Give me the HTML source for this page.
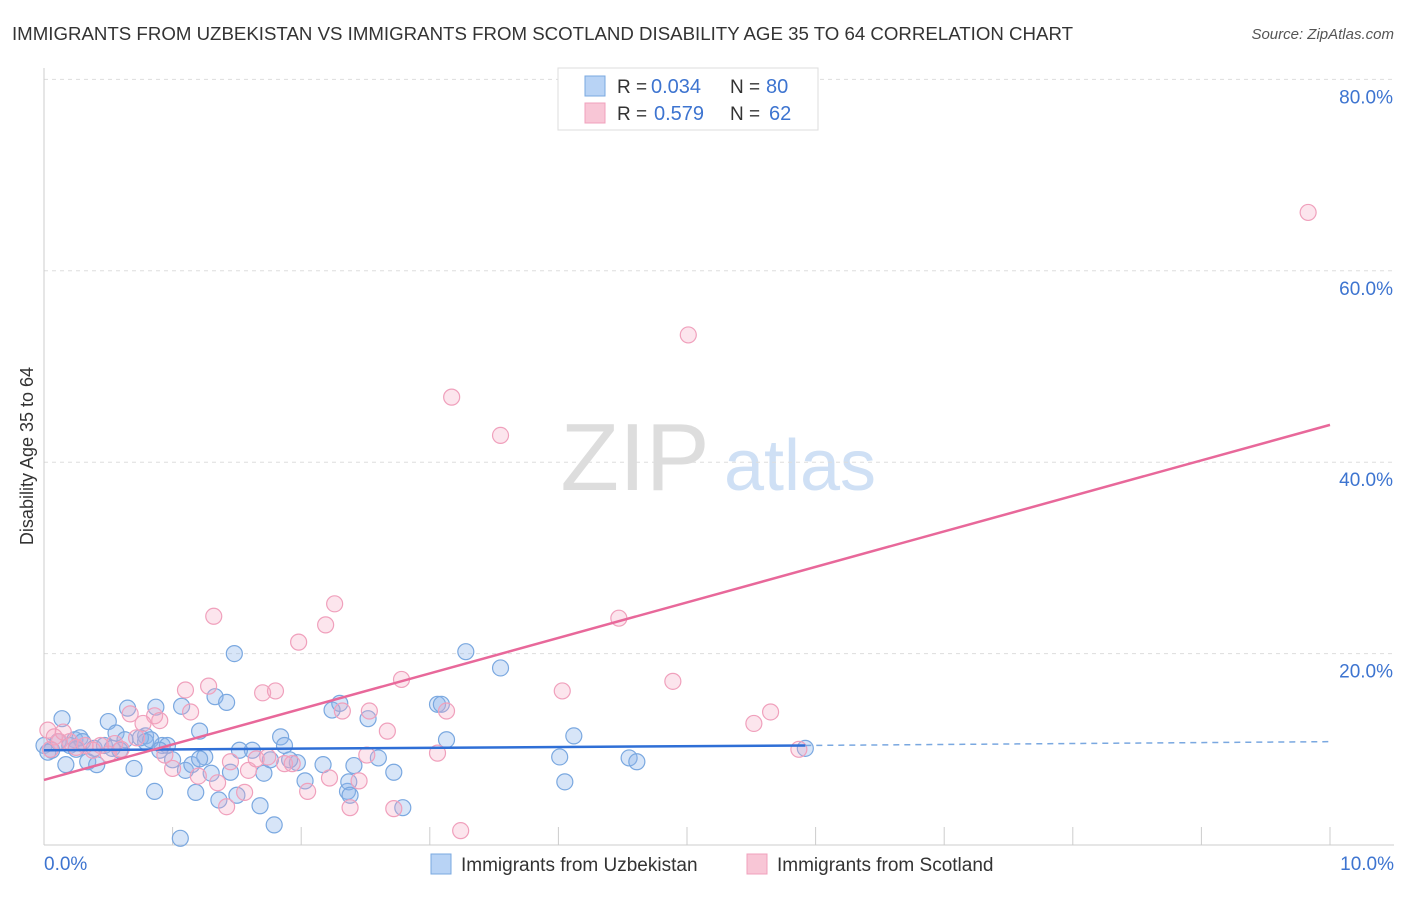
<!DOCTYPE html>
<html><head><meta charset="utf-8"><style>
body{margin:0;background:#fff;font-family:"Liberation Sans",sans-serif;}
svg text{font-family:"Liberation Sans",sans-serif;}
</style></head><body>
<svg id="chart" width="1406" height="892" viewBox="0 0 1406 892" xmlns="http://www.w3.org/2000/svg">
<text x="12" y="40" font-size="18" fill="#333" textLength="1061" lengthAdjust="spacingAndGlyphs">IMMIGRANTS FROM UZBEKISTAN VS IMMIGRANTS FROM SCOTLAND DISABILITY AGE 35 TO 64 CORRELATION CHART</text>
<text x="1394" y="39" font-size="15" fill="#555" text-anchor="end" font-style="italic">Source: ZipAtlas.com</text>
<text transform="translate(33,456) rotate(-90)" font-size="18" fill="#333" text-anchor="middle">Disability Age 35 to 64</text>
<g>
<text x="635" y="490" font-size="96" fill="#ddd" font-family="Liberation Serif" text-anchor="middle">ZIP</text>
<text x="800" y="490" font-size="72" fill="#cfe0f5" text-anchor="middle">atlas</text>
</g>
<g id="grid"></g>
<g id="axes"></g>
<g id="pts"></g>
<g id="lines"></g>
<g>
<rect x="558" y="68" width="260" height="62" fill="#fff" stroke="#ddd"/>
<rect x="585" y="76" width="20" height="20" fill="#b8d3f5" stroke="#7aa8e0"/>
<text x="617" y="93" font-size="19" fill="#333">R =</text>
<text x="651" y="93" font-size="20" fill="#3d74d0">0.034</text>
<text x="730" y="93" font-size="19" fill="#333">N =</text>
<text x="766" y="93" font-size="20" fill="#3d74d0">80</text>
<rect x="585" y="103" width="20" height="20" fill="#f8c6d6" stroke="#f0a0bc"/>
<text x="617" y="120" font-size="19" fill="#333">R =</text>
<text x="654" y="120" font-size="20" fill="#3d74d0">0.579</text>
<text x="730" y="120" font-size="19" fill="#333">N =</text>
<text x="769" y="120" font-size="20" fill="#3d74d0">62</text>
</g>
<g>
<rect x="431" y="854" width="20" height="20" fill="#b8d3f5" stroke="#7aa8e0"/>
<text x="461" y="871" font-size="19" fill="#333">Immigrants from Uzbekistan</text>
<rect x="747" y="854" width="20" height="20" fill="#f8c6d6" stroke="#f0a0bc"/>
<text x="777" y="871" font-size="19" fill="#333">Immigrants from Scotland</text>
</g>
</svg>
<script>
const xTicks=[0,1,2,3,4,5,6,7,8,9,10];
const yTicks=[20,40,60,80];
const yTickLabels=["20.0%","40.0%","60.0%","80.0%"];
const xTickLabels=["0.0%","10.0%"];
const blueX=[0.00,0.06,0.14,0.17,0.24,0.28,0.34,0.41,0.50,0.56,0.65,0.70,0.79,0.79,0.86,0.87,0.92,1.00,1.06,1.07,1.10,1.15,1.18,1.21,1.25,1.30,1.33,1.36,1.42,1.45,1.48,1.50,1.62,1.68,1.71,1.79,1.84,1.87,1.97,2.03,2.17,2.24,2.30,2.36,2.37,2.41,2.52,2.60,2.72,2.79,3.06,3.09,3.13,3.28,3.55,4.01,4.05,4.12,4.55,4.61,5.92,0.03,0.11,0.20,0.30,0.39,0.47,0.53,0.59,0.75,0.83,0.96,1.21,1.76,1.91,2.38,1.52,0.63,0.90,0.25];
const blueY=[10.4,9.9,13.2,8.4,11.0,11.2,8.7,8.4,12.9,11.7,14.3,8.0,11.4,10.8,5.6,14.4,10.4,8.9,0.7,14.5,7.8,8.4,5.5,11.9,9.2,7.5,15.5,4.7,14.9,7.6,20.0,5.2,9.9,4.1,7.5,2.1,11.3,10.4,8.6,6.7,8.4,14.1,14.8,5.6,6.6,8.3,13.2,9.1,7.6,3.9,14.7,14.7,11.0,20.2,18.5,9.2,6.6,11.4,9.1,8.7,10.1,9.7,10.8,10.4,10.8,10.1,10.4,10.1,9.9,11.2,11.0,10.4,9.0,8.9,8.9,5.2,9.9,11.0,9.9,10.0];
const pinkX=[9.83,5.01,3.17,3.55,1.32,2.26,1.98,2.19,4.47,4.89,4.03,2.78,1.28,1.70,1.80,5.52,5.65,2.32,2.53,3.13,2.67,3.06,5.87,3.24,2.72,2.38,1.42,2.05,1.87,1.59,1.45,1.14,0.86,0.67,0.77,0.94,0.44,0.12,0.03,0.20,0.32,0.55,1.74,1.93,2.51,2.45,1.56,2.22,1.10,0.08,0.25,0.38,0.60,1.00,0.15,1.20,0.50,0.72,1.35,0.05,0.90,1.65];
const pinkY=[66.1,53.3,46.8,42.8,23.9,25.2,21.2,23.0,23.7,17.1,16.1,17.3,16.6,15.9,16.1,12.7,13.9,14.0,14.0,14.0,11.9,9.6,10.0,1.5,3.8,3.9,4.0,5.6,8.5,7.8,8.7,13.9,13.5,13.7,12.7,9.4,10.4,10.8,12.0,10.8,10.4,10.6,9.2,8.5,9.4,6.7,5.5,7.0,16.2,11.3,10.2,9.9,10.0,8.0,11.8,7.2,9.5,11.2,6.5,10.0,13.0,9.0];
const blueLine=[[0,9.9],[5.92,10.4],[10,10.8]];
const pinkLine=[[0,6.8],[10,43.9]];
const NS="http://www.w3.org/2000/svg";
const X=v=>44+v*128.6, Y=v=>845-v*9.57;
function mk(t,a,p){const e=document.createElementNS(NS,t);for(const k in a)e.setAttribute(k,a[k]);p.appendChild(e);return e;}
const grid=document.getElementById('grid'),axes=document.getElementById('axes'),pts=document.getElementById('pts'),lines=document.getElementById('lines');
yTicks.forEach((t,i)=>{
 const g=mk('line',{x1:44,x2:1394,y1:Y(t),y2:Y(t),stroke:'#ddd','stroke-dasharray':'4,4'},grid);
 
 
 const l=mk('text',{x:1393,y:Y(t)+24,'font-size':19,fill:'#3d74d0','text-anchor':'end'},axes);
 l.textContent=yTickLabels[i];
 
 
});
const ax=mk('line',{x1:44,x2:44,y1:68,y2:845,stroke:'#ccc'},axes);


const bx=mk('line',{x1:44,x2:1394,y1:845,y2:845,stroke:'#ccc'},axes);


xTicks.forEach(t=>{
 const tk=mk('line',{x1:X(t),x2:X(t),y1:827,y2:845,stroke:'#ccc'},axes);
 
 
});
const xl0=mk('text',{x:44,y:870,'font-size':19,fill:'#3d74d0'},axes);xl0.textContent=xTickLabels[0];


const xl1=mk('text',{x:1394,y:870,'font-size':19,fill:'#3d74d0','text-anchor':'end'},axes);xl1.textContent=xTickLabels[1];


blueX.forEach((v,i)=>{
 const c=mk('circle',{cx:X(v),cy:Y(blueY[i]),r:8,fill:'rgba(140,180,235,0.35)',stroke:'#7aa8e0','stroke-width':1.2},pts);
 
 
});
pinkX.forEach((v,i)=>{
 const c=mk('circle',{cx:X(v),cy:Y(pinkY[i]),r:8,fill:'rgba(245,170,195,0.3)',stroke:'#f0a0bc','stroke-width':1.2},pts);
 
 
});
const b1=mk('line',{x1:X(blueLine[0][0]),y1:Y(blueLine[0][1]),x2:X(blueLine[1][0]),y2:Y(blueLine[1][1]),stroke:'#2f6fd6','stroke-width':2.5},lines);


const b2=mk('line',{x1:X(blueLine[1][0]),y1:Y(blueLine[1][1]),x2:X(blueLine[2][0]),y2:Y(blueLine[2][1]),stroke:'#7aa8e0','stroke-width':1.5,'stroke-dasharray':'6,5'},lines);


const p1=mk('line',{x1:X(pinkLine[0][0]),y1:Y(pinkLine[0][1]),x2:X(pinkLine[1][0]),y2:Y(pinkLine[1][1]),stroke:'#e8689a','stroke-width':2.5},lines);


</script>
</body></html>
